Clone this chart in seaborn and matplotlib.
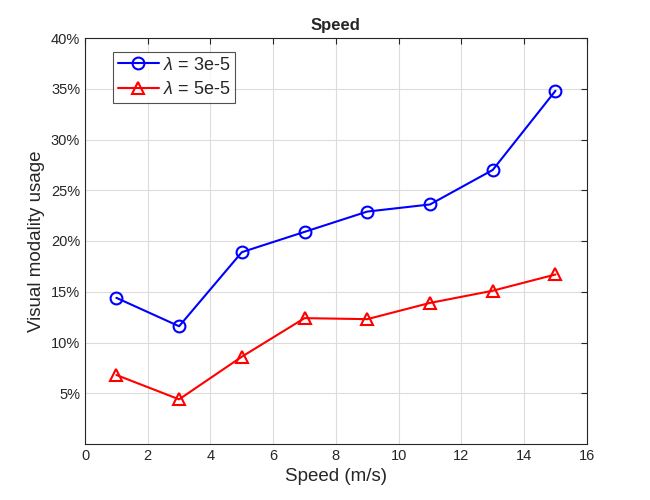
import pandas as pd
import seaborn as sns
import matplotlib.pyplot as plt
from matplotlib.ticker import PercentFormatter

speed = [1, 3, 5, 7, 9, 11, 13, 15]
usage_3e5 = [14.4, 11.6, 18.9, 20.9, 22.9, 23.6, 27.0, 34.8]
usage_5e5 = [6.8, 4.4, 8.6, 12.4, 12.3, 13.9, 15.1, 16.7]
labels = [r'$\lambda$ = 3e-5', r'$\lambda$ = 5e-5']

df = pd.concat([
    pd.DataFrame({'speed': speed, 'usage': usage_3e5, 'series': labels[0]}),
    pd.DataFrame({'speed': speed, 'usage': usage_5e5, 'series': labels[1]}),
])

sns.set_style('white')
plt.rcParams['font.family'] = ['Liberation Sans', 'DejaVu Sans']
plt.rcParams['mathtext.fontset'] = 'custom'
plt.rcParams['mathtext.it'] = 'Liberation Sans:italic'
plt.rcParams['mathtext.rm'] = 'Liberation Sans'

fig = plt.figure(figsize=(6.5, 5), dpi=100)
ax = fig.add_axes([0.1308, 0.112, 0.772, 0.812])

sns.lineplot(data=df, x='speed', y='usage', hue='series', style='series',
             palette=['#0000ff', '#ff0000'], markers=['o', '^'], dashes=False,
             markersize=8.5, markerfacecolor='none', markeredgewidth=1.5,
             linewidth=1.5, ax=ax)
for line, c in zip(ax.lines, ['#0000ff', '#ff0000']):
    line.set_markeredgecolor(c)

ax.set_xlim(0, 16)
ax.set_ylim(0, 40)
ax.set_xticks(range(0, 17, 2))
ax.set_yticks(range(5, 41, 5))
ax.yaxis.set_major_formatter(PercentFormatter(decimals=0))
ax.grid(True, color='#dcdcdc', linewidth=0.8)
ax.set_axisbelow(True)
for s in ax.spines.values():
    s.set_visible(True)
    s.set_color('#262626')
    s.set_linewidth(0.8)
ax.tick_params(direction='in', length=4, top=True, right=True, labelsize=10.5,
               colors='#262626')

ax.set_xlabel('Speed (m/s)', fontsize=13.5, color='#262626')
ax.set_ylabel('Visual modality usage', fontsize=13.5, color='#262626')
ax.set_title('Speed', fontsize=12, fontweight='bold')

leg = ax.legend(loc='upper left', bbox_to_anchor=(0.056, 0.965), fontsize=13,
                frameon=True, fancybox=False, edgecolor='#262626',
                borderpad=0.25, handlelength=2.3, labelspacing=0.42,
                handletextpad=0.2, borderaxespad=0)
leg.get_frame().set_linewidth(0.8)
for h in leg.get_lines():
    h.set_markerfacecolor('none')
    h.set_markeredgecolor(h.get_color())

fig.savefig('out.png', dpi=100, facecolor='white')
